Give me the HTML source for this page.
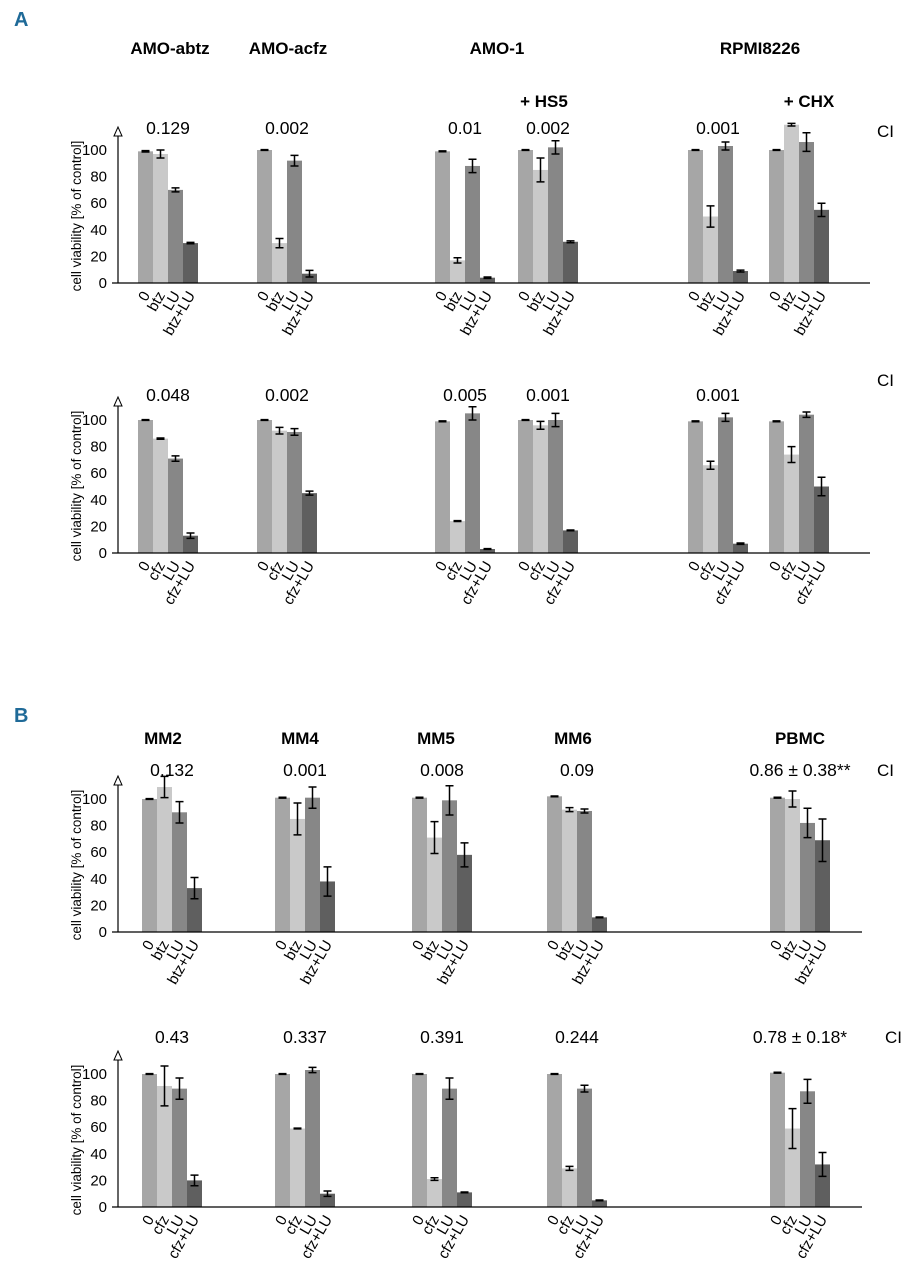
<!DOCTYPE html>
<html><head><meta charset="utf-8"><style>
body{margin:0;background:#fff}
svg text{font-family:"Liberation Sans",Arial,sans-serif}
</style></head><body>
<svg id="fig" width="912" height="1280" viewBox="0 0 912 1280" xmlns="http://www.w3.org/2000/svg">
<text x="14" y="26" font-size="20" font-weight="bold" fill="#1f6a98">A</text>
<text x="14" y="722" font-size="20" font-weight="bold" fill="#1f6a98">B</text>
<g font-size="17" font-weight="bold" text-anchor="middle">
<text x="170" y="54">AMO-abtz</text>
<text x="288" y="54">AMO-acfz</text>
<text x="497" y="54">AMO-1</text>
<text x="760" y="54">RPMI8226</text>
<text x="544" y="107">+ HS5</text>
<text x="809" y="107">+ CHX</text>
<text x="163" y="744">MM2</text>
<text x="300" y="744">MM4</text>
<text x="436" y="744">MM5</text>
<text x="573" y="744">MM6</text>
<text x="800" y="744">PBMC</text>
</g>
</svg>
<script>
const catsBtz=["0","btz","LU","btz+LU"];
const catsCfz=["0","cfz","LU","cfz+LU"];
const yTicks=[0,20,40,60,80,100];
const a1Vals=[[99,97,70,30],[100,30,92,7],[99,17,88,4],[100,85,102,31],[100,50,103,9],[100,119,106,55]];
const a1Errs=[[0.5,3,1.5,0.5],[0.3,3.5,4,2.5],[0.3,2,5,0.5],[0.3,9,5,0.7],[0.3,8,3,0.7],[0.3,1,7,5]];
const a1CI=["0.129","0.002","0.01","0.002","0.001",""];
const a2Vals=[[100,86,71,13],[100,92,91,45],[99,24,105,3],[100,96,100,17],[99,66,102,7],[99,74,104,50]];
const a2Errs=[[0.3,0.5,2,2],[0.3,2.5,2.5,1.5],[0.3,0.3,5,0.3],[0.3,3,5,0.3],[0.3,3,3,0.5],[0.3,6,2,7]];
const a2CI=["0.048","0.002","0.005","0.001","0.001",""];
const b1Vals=[[100,109,90,33],[101,85,101,38],[101,71,99,58],[102,92,91,11],[101,100,82,69]];
const b1Errs=[[0.3,8,8,8],[0.3,12,8,11],[0.3,12,11,9],[0.3,1.5,1.5,0.3],[0.3,6,11,16]];
const b1CI=["0.132","0.001","0.008","0.09","0.86 ± 0.38**"];
const b2Vals=[[100,91,89,20],[100,59,103,10],[100,21,89,11],[100,29,89,5],[101,59,87,32]];
const b2Errs=[[0.3,15,8,4],[0.3,0.3,2,2],[0.3,1,8,0.3],[0.3,1.5,2.5,0.3],[0.3,15,9,9]];
const b2CI=["0.43","0.337","0.391","0.244","0.78 ± 0.18*"];

const NS="http://www.w3.org/2000/svg";
const svg=document.getElementById('fig');
const colors=["#a6a6a6","#c9c9c9","#878787","#5f5f5f"];
function mk(tag,attrs,parent){const e=document.createElementNS(NS,tag);for(const k in attrs)e.setAttribute(k,attrs[k]);(parent||svg).appendChild(e);return e;}
function panel(id,zeroY,groupX,axisEnd,vals,errs,ci,cats,ciY,ciLabelX,ciLabelY){
  const g=mk('g',{});
  
  
  const y=v=>zeroY-v*1.33;
  const axisX=118,bw=15;
  const ax=mk('line',{x1:axisX,y1:zeroY,x2:axisX,y2:zeroY-148,stroke:"#000","stroke-width":1.2},g);
  
  
  const ar=mk('path',{d:`M${axisX-4},${zeroY-147} L${axisX},${zeroY-156} L${axisX+4},${zeroY-147} Z`,fill:"#fff",stroke:"#000","stroke-width":1},g);
  
  
  yTicks.forEach(t=>{
    const tl=mk('text',{x:107,y:y(t)+5,"font-size":15,"text-anchor":"end"},g);tl.textContent=t;
    
    
  });
  const yt=mk('text',{x:81,y:zeroY-67,"font-size":13.5,"text-anchor":"middle",transform:`rotate(-90 81 ${zeroY-67})`},g);
  yt.textContent="cell viability [% of control]";
  
  
  vals.forEach((gv,gi)=>{
    const x0=groupX[gi];
    gv.forEach((v,bi)=>{
      const bx=x0+bi*bw;
      const r=mk('rect',{x:bx,y:y(v),width:bw,height:zeroY-y(v),fill:colors[bi]},g);
      
      
      const e=errs[gi][bi],cx=bx+bw/2;
      const eb=mk('path',{d:`M${cx},${y(v+e)} V${y(v-e)} M${cx-4},${y(v+e)} H${cx+4} M${cx-4},${y(v-e)} H${cx+4}`,stroke:"#000","stroke-width":1.5,fill:"none"},g);
      
      
      const lx=cx+5,ly=zeroY+12;
      const lt=mk('text',{x:lx,y:ly,"font-size":15,"text-anchor":"end",transform:`rotate(-60 ${lx} ${ly})`},g);
      lt.textContent=cats[bi];
      
      
    });
    if(ci[gi]){
      const c=mk('text',{x:x0+30,y:ciY,"font-size":17.5,"text-anchor":"middle"},g);c.textContent=ci[gi];
      
      
    }
  });
  const xa=mk('line',{x1:axisX-6,y1:zeroY,x2:axisEnd,y2:zeroY,stroke:"#000","stroke-width":1.3},g);
  
  
  const cl=mk('text',{x:ciLabelX,y:ciLabelY,"font-size":17},g);cl.textContent="CI";
  
  
}
const gxA=[138,257,435,518,688,769],gxB=[142,275,412,547,770];
panel('a-btz',283,gxA,870,a1Vals,a1Errs,a1CI,catsBtz,134,877,137);
panel('a-cfz',553,gxA,870,a2Vals,a2Errs,a2CI,catsCfz,401,877,386);
panel('b-btz',932,gxB,862,b1Vals,b1Errs,b1CI,catsBtz,776,877,776);
panel('b-cfz',1207,gxB,862,b2Vals,b2Errs,b2CI,catsCfz,1043,885,1043);
</script>
</body></html>
